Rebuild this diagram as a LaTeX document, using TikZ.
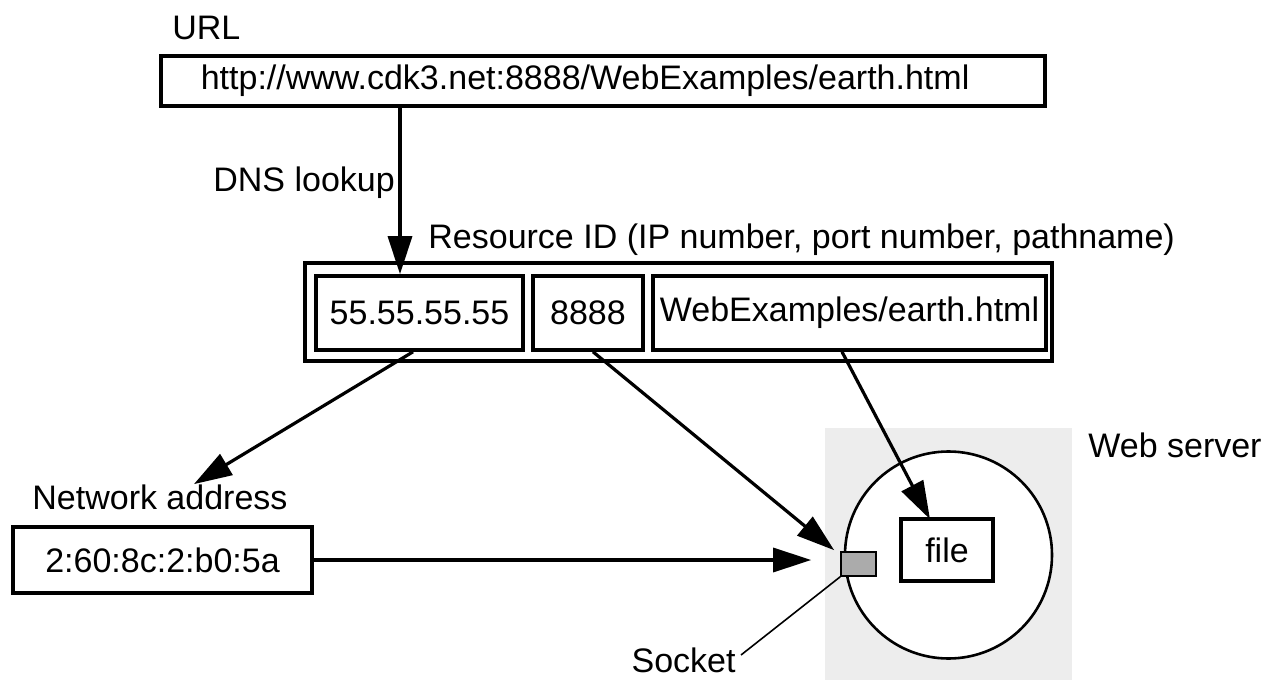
\documentclass[tikz,border=0pt]{standalone}
\usepackage{fontspec}
\setmainfont{Liberation Sans}
\usetikzlibrary{arrows.meta,calc}
\tikzset{
  lbl/.style={inner sep=0pt, font=\fontsize{17pt}{20pt}\selectfont},
  tbox/.style={draw, line width=1.8pt, inner xsep=0pt, inner ysep=0pt, font=\fontsize{17pt}{20pt}\selectfont},
  arr/.style={line width=1.6pt, -{Triangle[length=19pt,width=12pt]}},
}
\begin{document}
\begin{tikzpicture}[x=0.5pt,y=-0.5pt]
\useasboundingbox (0,0) rectangle (1270,680);
% web server background
\fill[black!7] (825,428) rectangle (1072,680);
\node[lbl, anchor=west] (urllbl) at (172,28) {URL};
\node[tbox, anchor=west, minimum height=25pt, inner xsep=20pt, text width=402pt, align=left] (url) at (159,81) {http://www.cdk3.net:8888/WebExamples/earth.html};
\node[lbl, anchor=west] (dns) at (213,183) {DNS lookup};
\node[lbl, anchor=west] (reslbl) at (428,240) {Resource ID (IP number, port number, pathname)};
\node[tbox, line width=1.6pt, minimum width=373.5pt, minimum height=49pt] (res) at (678.5,312) {};
\node[tbox, minimum width=103.5pt, minimum height=37pt] (ip) at (419.5,313) {55.55.55.55};
\node[tbox, minimum width=55pt, minimum height=37pt] (port) at (588,313) {8888};
\node[tbox, minimum width=196.5pt, minimum height=37pt] (path) at (849.5,313) {WebExamples/earth.html};
\node[lbl, anchor=west] (netlbl) at (32,497) {Network address};
\node[tbox, minimum width=149.5pt, minimum height=33pt] (net) at (162.5,560) {2:60:8c:2:b0:5a};
\node[draw, line width=1.3pt, circle, fill=white, minimum size=103.5pt, inner sep=0pt] (srv) at (948.5,555) {};
\node[tbox, minimum width=46pt, minimum height=31pt] (file) at (947,550) {file};
\node[draw, line width=0.8pt, fill=black!33, minimum width=17.5pt, minimum height=12pt, inner sep=0pt] (sock) at (858.5,564) {};
\node[lbl, anchor=west] (srvlbl) at (1088,445) {Web server};
\node[lbl, anchor=east] (socklbl) at (736,660) {Socket};
% connectors
\draw[arr] ([xshift=120.5pt]url.south west) -- ([xshift=120.5pt]url.south west |- ip.north);
\draw[arr] ([xshift=-3.25pt]ip.south) -- ([xshift=17pt]netlbl.north);
\draw[arr] ([xshift=2.5pt]port.south) -- ([xshift=-3pt,yshift=0.5pt]sock.north west);
\draw[arr] (net.east) -- ([xshift=-14.5pt]sock.west |- net.east);
\draw[arr] ([xshift=-3.75pt]path.south) -- ([xshift=-8.5pt,yshift=-1pt]file.north);
\draw[line width=0.8pt] ([xshift=2.5pt,yshift=2.5pt]socklbl.east) -- (sock.south west);
\end{tikzpicture}
\end{document}
